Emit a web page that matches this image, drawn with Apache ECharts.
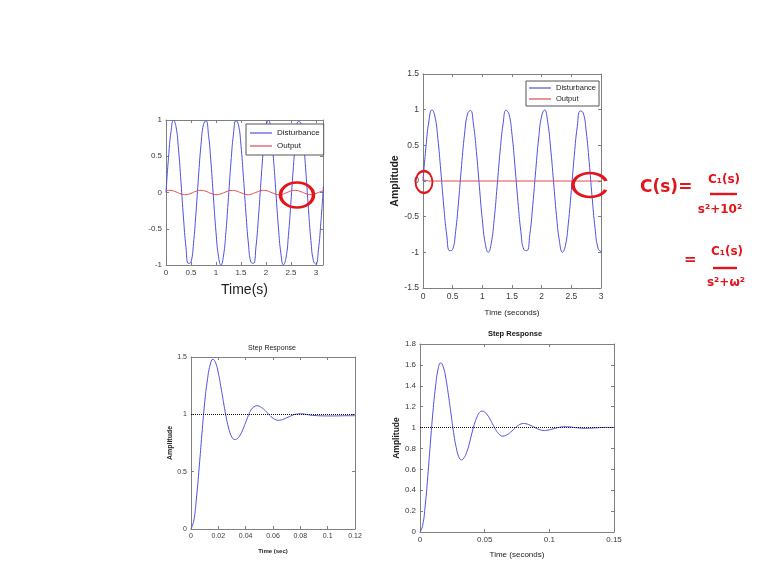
<!DOCTYPE html>
<html>
<head>
<meta charset="utf-8">
<script src="https://cdn.jsdelivr.net/npm/echarts@6/dist/echarts.min.js"></script>
<style>
  html, body { margin: 0; background: #fff; }
  #chart { width: 767px; height: 576px; }
</style>
</head>
<body>
<div id="chart"></div>
<script>
// time samples (s) for the two disturbance plots
const timeTop = [0, 0.05, 0.1, 0.15, 0.2, 0.25, 0.3, 0.35, 0.4, 0.45, 0.5, 0.55, 0.6, 0.65, 0.7, 0.75,
  0.8, 0.85, 0.9, 0.95, 1, 1.05, 1.1, 1.15, 1.2, 1.25, 1.3, 1.35, 1.4, 1.45, 1.5, 1.55, 1.6, 1.65,
  1.7, 1.75, 1.8, 1.85, 1.9, 1.95, 2, 2.05, 2.1, 2.15, 2.2, 2.25, 2.3, 2.35, 2.4, 2.45, 2.5, 2.55,
  2.6, 2.65, 2.7, 2.75, 2.8, 2.85, 2.9, 2.95, 3, 3.05, 3.1, 3.15];
const disturbance = [0, 0.479, 0.841, 0.997, 0.909, 0.598, 0.141, -0.351, -0.757, -0.978, -0.959,
  -0.706, -0.279, 0.215, 0.657, 0.938, 0.989, 0.798, 0.412, -0.075, -0.544, -0.88, -1, -0.875,
  -0.537, -0.066, 0.42, 0.804, 0.991, 0.935, 0.65, 0.207, -0.288, -0.712, -0.961, -0.976, -0.751,
  -0.342, 0.15, 0.603, 0.913, 0.996, 0.837, 0.471, -0.009, -0.487, -0.846, -0.998, -0.906, -0.591,
  -0.132, 0.36, 0.763, 0.98, 0.956, 0.699, 0.271, -0.224, -0.664, -0.941, -0.988, -0.792, -0.404, 0.084];
const outputLeft = [0.023, 0.029, 0.029, 0.021, 0.008, -0.007, -0.02, -0.028, -0.03, -0.024, -0.012,
  0.003, 0.017, 0.027, 0.03, 0.026, 0.016, 0.002, -0.013, -0.024, -0.03, -0.028, -0.019, -0.006,
  0.009, 0.022, 0.029, 0.029, 0.022, 0.01, -0.004, -0.018, -0.028, -0.03, -0.025, -0.013, 0.001,
  0.015, 0.026, 0.03, 0.027, 0.017, 0.003, -0.012, -0.024, -0.03, -0.028, -0.02, -0.007, 0.008,
  0.021, 0.029, 0.029, 0.023, 0.011, -0.003, -0.017, -0.027, -0.03, -0.025, -0.014, 0, 0.014, 0.026];
const outputTimeRight = [0, 0.02, 0.05, 0.1, 3];
const outputRight = [0.05, 0.01, 0, 0, 0];

// step responses
const stepTimeLeft = [0, 0.002, 0.004, 0.006, 0.008, 0.01, 0.012, 0.014, 0.016, 0.018, 0.02, 0.022,
  0.024, 0.026, 0.028, 0.03, 0.032, 0.034, 0.036, 0.038, 0.04, 0.042, 0.044, 0.046, 0.048, 0.05,
  0.052, 0.054, 0.056, 0.058, 0.06, 0.062, 0.064, 0.066, 0.068, 0.07, 0.072, 0.074, 0.076, 0.078,
  0.08, 0.082, 0.084, 0.086, 0.088, 0.09, 0.095, 0.1, 0.105, 0.11, 0.115, 0.12];
const stepLeft = [0, 0.07, 0.27, 0.54, 0.83, 1.1, 1.3, 1.43, 1.48, 1.45, 1.36, 1.23, 1.09, 0.96,
  0.86, 0.8, 0.78, 0.79, 0.82, 0.87, 0.93, 0.99, 1.04, 1.065, 1.075, 1.07, 1.056, 1.036, 1.012,
  0.987, 0.966, 0.953, 0.948, 0.951, 0.959, 0.97, 0.98, 0.991, 0.999, 1.003, 1.005, 1.004, 1,
  0.996, 0.992, 0.99, 0.987, 0.986, 0.986, 0.987, 0.988, 0.988];
const stepTimeRight = [0, 0.002, 0.004, 0.006, 0.008, 0.01, 0.012, 0.014, 0.016, 0.018, 0.02, 0.022,
  0.024, 0.026, 0.028, 0.03, 0.032, 0.034, 0.036, 0.038, 0.04, 0.042, 0.044, 0.046, 0.048, 0.05,
  0.052, 0.054, 0.056, 0.058, 0.06, 0.062, 0.064, 0.066, 0.068, 0.07, 0.072, 0.074, 0.076, 0.078,
  0.08, 0.082, 0.084, 0.086, 0.088, 0.09, 0.092, 0.094, 0.096, 0.098, 0.1, 0.104, 0.108, 0.112,
  0.116, 0.12, 0.124, 0.128, 0.132, 0.136, 0.14, 0.145, 0.15];
const stepRight = [0, 0.06, 0.25, 0.53, 0.85, 1.15, 1.39, 1.56, 1.62, 1.58, 1.47, 1.31, 1.13, 0.95,
  0.81, 0.72, 0.69, 0.71, 0.76, 0.84, 0.94, 1.03, 1.1, 1.145, 1.157, 1.148, 1.122, 1.083, 1.037,
  0.992, 0.953, 0.927, 0.918, 0.923, 0.936, 0.955, 0.978, 1.001, 1.021, 1.034, 1.039, 1.036, 1.029,
  1.018, 1.006, 0.993, 0.982, 0.975, 0.972, 0.974, 0.978, 0.991, 1.003, 1.008, 1.006, 1, 0.995,
  0.993, 0.994, 0.997, 1, 1.001, 1.001];
const steadyState = 1;

const zip = (xs, ys) => xs.map((x, i) => [x, ys[i]]);

const blue = '#5050e2';
const red = '#e04a50';
const ink = '#e3141c';
const boxColor = '#808080';
const font = '"Liberation Sans", Arial, sans-serif';

// bottom/left axes carry labels, top/right axes only close the box with ticks
function axisPair(dim, grid, range, label, name) {
  const base = {
    gridIndex: grid, type: 'value', min: range[0], max: range[1], interval: range[2],
    splitLine: { show: false },
    axisLine: { show: true, onZero: false, lineStyle: { color: boxColor, width: 1 } },
    axisTick: { show: true, inside: true, length: 3, lineStyle: { color: boxColor } }
  };
  const main = Object.assign({}, base, {
    position: dim === 'x' ? 'bottom' : 'left',
    axisLabel: Object.assign({ color: '#3a3a3a', fontFamily: font, margin: 4 }, label)
  }, name || {});
  const other = Object.assign({}, base, {
    position: dim === 'x' ? 'top' : 'right',
    axisLabel: { show: false }
  });
  return [main, other];
}

const halfStep = v => (Math.abs(v * 2 - Math.round(v * 2)) < 1e-6 ? String(v) : '');

const xAxis = [
  ...axisPair('x', 0, [0, Math.PI, 0.5], { fontSize: 8, formatter: halfStep }, {
    name: 'Time(s)', nameLocation: 'middle', nameGap: 18,
    nameTextStyle: { fontFamily: font, fontSize: 14, color: '#222' }
  }),
  ...axisPair('x', 1, [0, 3, 0.5], { fontSize: 8.5 }, {
    name: 'Time (seconds)', nameLocation: 'middle', nameGap: 21,
    nameTextStyle: { fontFamily: font, fontSize: 8, color: '#222' }
  }),
  ...axisPair('x', 2, [0, 0.12, 0.02], { fontSize: 7 }, {
    name: 'Time (sec)', nameLocation: 'middle', nameGap: 19,
    nameTextStyle: { fontFamily: font, fontSize: 6, fontWeight: 'bold', color: '#222' }
  }),
  ...axisPair('x', 3, [0, 0.15, 0.05], { fontSize: 8 }, {
    name: 'Time (seconds)', nameLocation: 'middle', nameGap: 19,
    nameTextStyle: { fontFamily: font, fontSize: 8, color: '#222' }
  })
];

const yAxis = [
  ...axisPair('y', 0, [-1, 1, 0.5], { fontSize: 8 }),
  ...axisPair('y', 1, [-1.5, 1.5, 0.5], { fontSize: 8.5 }, {
    name: 'Amplitude', nameLocation: 'middle', nameGap: 13,
    nameTextStyle: { fontFamily: font, fontSize: 10.5, fontWeight: 'bold', color: '#222' }
  }),
  ...axisPair('y', 2, [0, 1.5, 0.5], { fontSize: 7 }, {
    name: 'Amplitude', nameLocation: 'middle', nameGap: 15,
    nameTextStyle: { fontFamily: font, fontSize: 7, fontWeight: 'bold', color: '#222' }
  }),
  ...axisPair('y', 3, [0, 1.8, 0.2], { fontSize: 8 }, {
    name: 'Amplitude', nameLocation: 'middle', nameGap: 10,
    nameTextStyle: { fontFamily: font, fontSize: 8.5, fontWeight: 'bold', color: '#222' }
  })
];

const refLine = {
  silent: true, symbol: 'none', label: { show: false },
  lineStyle: { type: 'dotted', color: '#111', width: 1 },
  data: [{ yAxis: steadyState }]
};

const lineSeries = (name, grid, data, color) => ({
  name, type: 'line', xAxisIndex: grid * 2, yAxisIndex: grid * 2, data,
  smooth: true, symbol: 'none', clip: true,
  lineStyle: { color, width: 1 }, itemStyle: { color }
});

const legendBase = {
  orient: 'vertical', data: ['Disturbance', 'Output'], backgroundColor: '#fff',
  borderColor: '#555', borderWidth: 1, borderRadius: 0, selectedMode: false,
  icon: 'rect', itemHeight: 1.2
};

const txt = (x, y, text, size, extra) => Object.assign({
  type: 'text', x, y, z: 100,
  style: Object.assign({
    text, fill: ink, font: 'bold ' + size + 'px "DejaVu Sans"',
    align: 'left', verticalAlign: 'middle', textAlign: 'left', textVerticalAlign: 'middle'
  }, extra || {})
});
const ctr = { align: 'center', textAlign: 'center' };
const bar = (x1, x2, y) => ({
  type: 'line', z: 100, shape: { x1, y1: y, x2, y2: y },
  style: { stroke: ink, lineWidth: 2.4 }
});
const loop = (x, y, rx, ry, arc) => ({
  type: arc ? 'arc' : 'circle', x, y, z: 100, scaleX: rx / 12, scaleY: ry / 12,
  shape: arc ? { cx: 0, cy: 0, r: 12, startAngle: 0.4, endAngle: Math.PI * 2 - 0.35, clockwise: true }
             : { cx: 0, cy: 0, r: 12 },
  style: { fill: 'none', stroke: ink, lineWidth: 2.6 }
});

const option = {
  backgroundColor: '#fff',
  animation: false,
  grid: [
    { left: 166, top: 120, width: 157, height: 145 },
    { left: 423, top: 74, width: 178, height: 214 },
    { left: 191, top: 357, width: 164, height: 172 },
    { left: 420, top: 344, width: 194, height: 188 }
  ],
  xAxis,
  yAxis,
  legend: [
    Object.assign({}, legendBase, {
      left: 246, top: 124, padding: [5, 4, 5, 4], itemGap: 5, itemWidth: 22,
      textStyle: { fontFamily: font, fontSize: 8, color: '#222' }
    }),
    Object.assign({}, legendBase, {
      left: 526, top: 81, padding: [3, 3, 3, 3], itemGap: 3, itemWidth: 22,
      textStyle: { fontFamily: font, fontSize: 7.5, color: '#222' }
    })
  ],
  series: [
    lineSeries('Disturbance', 0, zip(timeTop, disturbance), blue),
    lineSeries('Output', 0, zip(timeTop, outputLeft), red),
    lineSeries('Disturbance', 1, zip(timeTop, disturbance), blue),
    Object.assign(lineSeries('Output', 1, zip(outputTimeRight, outputRight), red), { smooth: false }),
    Object.assign(lineSeries('Step', 2, zip(stepTimeLeft, stepLeft), blue), { markLine: refLine }),
    Object.assign(lineSeries('Step', 3, zip(stepTimeRight, stepRight), blue), { markLine: refLine })
  ],
  graphic: [
    txt(272, 348, 'Step Response', 7, Object.assign({ fill: '#222', font: '7px ' + font }, ctr)),
    txt(515, 334, 'Step Response', 7.5, Object.assign({ fill: '#111', font: 'bold 7.5px ' + font }, ctr)),
    // handwritten notes
    txt(640, 188, 'C(s)=', 17),
    txt(724, 180, 'C\u2081(s)', 12, ctr),
    bar(710, 737, 194),
    txt(720, 210, 's\u00b2+10\u00b2', 12, ctr),
    txt(684, 260, '=', 15),
    txt(727, 252, 'C\u2081(s)', 12, ctr),
    bar(713, 737, 268),
    txt(726, 283, 's\u00b2+\u03c9\u00b2', 12, ctr),
    // circled regions
    loop(297, 195, 16.5, 12.5),
    loop(424, 182, 8.5, 11),
    loop(590, 185, 17, 12, true)
  ]
};

const chart = echarts.init(document.getElementById('chart'));
chart.setOption(option);
window.addEventListener('resize', () => chart.resize());
</script>
</body>
</html>
